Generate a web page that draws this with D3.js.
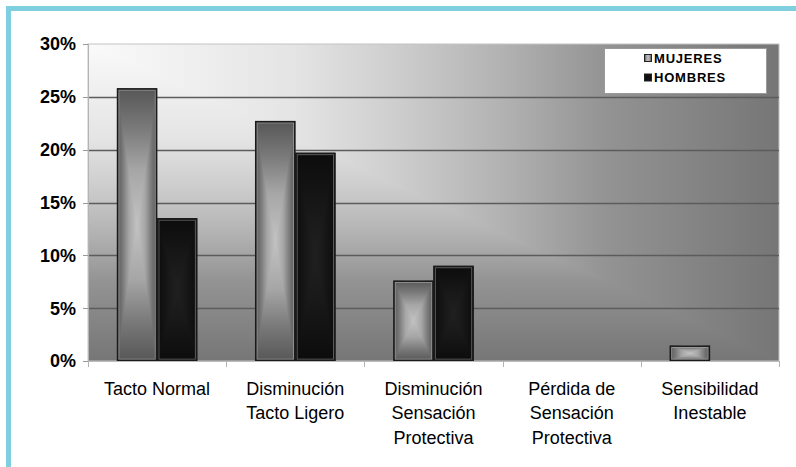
<!DOCTYPE html>
<html>
<head>
<meta charset="utf-8">
<script src="https://cdn.jsdelivr.net/npm/d3@7"></script>
<style>
  html, body { margin: 0; padding: 0; background: #ffffff; }
  svg { display: block; }
</style>
</head>
<body>
<svg id="chart" width="796" height="467"></svg>
<script>
// ---- data ----
const categories = [
  ["Tacto Normal"],
  ["Disminución", "Tacto Ligero"],
  ["Disminución", "Sensación", "Protectiva"],
  ["Pérdida de", "Sensación", "Protectiva"],
  ["Sensibilidad", "Inestable"]
];
const seriesNames = ["MUJERES", "HOMBRES"];
const mujeres = [0.258, 0.227, 0.076, 0, 0.0145];
const hombres = [0.135, 0.197, 0.090, 0, 0];
const yTicks = [0, 0.05, 0.10, 0.15, 0.20, 0.25, 0.30];

const svg = d3.select("#chart");
const W = 796, H = 467;
const plot = { left: 88, right: 779, top: 44, bottom: 361 };
const font = "'Liberation Sans', Arial, sans-serif";

const defs = svg.append("defs");

// background gradient (rectangular "from corner")
const bgStops = [[0, "#fafafa"], [0.3, "#e4e4e4"], [0.45, "#cdcdcd"], [0.6, "#b2b2b2"], [0.75, "#939393"], [1, "#767676"]];
function addGrad(id, x2, y2, stops) {
  const g = defs.append("linearGradient").attr("id", id)
    .attr("x1", 0).attr("y1", 0).attr("x2", x2).attr("y2", y2);
  stops.forEach(s => g.append("stop").attr("offset", s[0]).attr("stop-color", s[1]));
}
addGrad("bgH", 1, 0, bgStops);
addGrad("bgV", 0, 1, bgStops);
defs.append("clipPath").attr("id", "lowerLeft").attr("clipPathUnits", "objectBoundingBox")
  .append("polygon").attr("points", "0,0 0,1 1,1");

// bar gradients (rectangular "from center")
function centerStops(c0, c1, c2, c3) {
  return [[0, c3], [0.14, c2], [0.3, c1], [0.5, c0], [0.7, c1], [0.86, c2], [1, c3]];
}
const mStops = centerStops("#c2c2c2", "#a6a6a6", "#787878", "#575757");
const hStops = centerStops("#202020", "#191919", "#121212", "#0c0c0c");
addGrad("mH", 1, 0, mStops);
addGrad("mV", 0, 1, mStops);
addGrad("hH", 1, 0, hStops);
addGrad("hV", 0, 1, hStops);
const tb = defs.append("clipPath").attr("id", "topBottom").attr("clipPathUnits", "objectBoundingBox");
tb.append("polygon").attr("points", "0,0 1,0 0.5,0.5");
tb.append("polygon").attr("points", "0,1 1,1 0.5,0.5");

// ---- frame ----
svg.append("line").attr("x1", 6).attr("x2", W).attr("y1", 8.5).attr("y2", 8.5)
  .attr("stroke", "#80cfe0").attr("stroke-width", 5);
svg.append("line").attr("x1", 8.5).attr("x2", 8.5).attr("y1", 6).attr("y2", H)
  .attr("stroke", "#80cfe0").attr("stroke-width", 5);

// ---- scales ----
const x0 = d3.scaleBand().domain(d3.range(categories.length))
  .range([plot.left, plot.right]).paddingInner(0.42).paddingOuter(0.21);
const x1 = d3.scaleBand().domain(seriesNames).range([0, x0.bandwidth()]);
const y = d3.scaleLinear().domain([0, 0.30]).range([plot.bottom, plot.top]);

// ---- plot background ----
const pw = plot.right - plot.left, ph = plot.bottom - plot.top;
svg.append("rect").attr("x", plot.left).attr("y", plot.top).attr("width", pw).attr("height", ph)
  .attr("fill", "url(#bgH)");
svg.append("rect").attr("x", plot.left).attr("y", plot.top).attr("width", pw).attr("height", ph)
  .attr("fill", "url(#bgV)").attr("clip-path", "url(#lowerLeft)");
svg.append("rect").attr("x", plot.left).attr("y", plot.top).attr("width", pw).attr("height", ph)
  .attr("fill", "none").attr("stroke", "#c4c4c4").attr("stroke-width", 1);

// gridlines
svg.append("g").selectAll("line").data(yTicks.filter(t => t > 0 && t < 0.30)).join("line")
  .attr("x1", plot.left).attr("x2", plot.right)
  .attr("y1", d => Math.round(y(d)) + 0.5).attr("y2", d => Math.round(y(d)) + 0.5)
  .attr("stroke", "#5c5c5c").attr("stroke-width", 1.3);

// ---- bars ----
const data = categories.map((c, i) => ({ i, vals: [mujeres[i], hombres[i]] }));
const groups = svg.append("g").selectAll("g").data(data).join("g")
  .attr("transform", d => `translate(${x0(d.i)},0)`);
groups.each(function (d) {
  const g = d3.select(this);
  d.vals.forEach((v, k) => {
    if (v <= 0) return;
    const key = k === 0 ? "m" : "h";
    const bx = x1(seriesNames[k]), bw = x1.bandwidth();
    const by = y(v), bh = y(0) - y(v);
    g.append("rect").attr("x", bx).attr("y", by).attr("width", bw).attr("height", bh)
      .attr("fill", `url(#${key}H)`);
    g.append("rect").attr("x", bx).attr("y", by).attr("width", bw).attr("height", bh)
      .attr("fill", `url(#${key}V)`).attr("clip-path", "url(#topBottom)");
    g.append("rect").attr("x", bx + 1.8).attr("y", by + 1.8).attr("width", bw - 3.6).attr("height", Math.max(0, bh - 3.6))
      .attr("fill", "none").attr("stroke", "rgba(200,200,200,0.45)").attr("stroke-width", 1);
    g.append("rect").attr("x", bx + 0.5).attr("y", by + 0.5).attr("width", bw - 1).attr("height", bh - 1)
      .attr("fill", "none").attr("stroke", "#1a1a1a").attr("stroke-width", 1.5);
  });
});

// ---- axes ----
svg.append("line").attr("x1", plot.left + 0.5).attr("x2", plot.left + 0.5)
  .attr("y1", plot.top).attr("y2", plot.bottom + 0.5).attr("stroke", "#b4b4b4");
svg.append("line").attr("x1", plot.left).attr("x2", plot.right + 1)
  .attr("y1", plot.bottom + 0.5).attr("y2", plot.bottom + 0.5).attr("stroke", "#bcbcbc");

const yAxis = svg.append("g");
yAxis.selectAll("line").data(yTicks).join("line")
  .attr("x1", plot.left - 5).attr("x2", plot.left)
  .attr("y1", d => Math.round(y(d)) + 0.5).attr("y2", d => Math.round(y(d)) + 0.5)
  .attr("stroke", "#9a9a9a");
yAxis.selectAll("text").data(yTicks).join("text")
  .attr("x", 76).attr("y", d => y(d)).attr("dy", "0.36em")
  .attr("text-anchor", "end").attr("font-family", font).attr("font-weight", "bold")
  .attr("font-size", 18).attr("fill", "#000")
  .text(d3.format(".0%"));

// category ticks
const catEdges = d3.range(categories.length + 1).map(i => plot.left + i * (pw / categories.length));
svg.append("g").selectAll("line").data(catEdges).join("line")
  .attr("x1", d => Math.round(d) + 0.5).attr("x2", d => Math.round(d) + 0.5)
  .attr("y1", plot.bottom).attr("y2", plot.bottom + 6).attr("stroke", "#b4b4b4");

// category labels
const xl = svg.append("g").selectAll("text").data(categories).join("text")
  .attr("text-anchor", "middle").attr("font-family", font).attr("font-size", 18).attr("fill", "#000")
  .attr("transform", (d, i) => `translate(${x0(i) + x0.bandwidth() / 2},0)`);
xl.each(function (lines) {
  d3.select(this).selectAll("tspan").data(lines).join("tspan")
    .attr("x", 0).attr("y", (l, j) => 394.5 + j * 24.5).text(l => l);
});

// ---- legend ----
const lg = svg.append("g");
lg.append("rect").attr("x", 604.5).attr("y", 48.5).attr("width", 162).attr("height", 45)
  .attr("fill", "#ffffff").attr("stroke", "#9a9a9a").attr("stroke-width", 1);
seriesNames.forEach((s, k) => {
  const yy = 58 + k * 19.5;
  lg.append("rect").attr("x", 644.5).attr("y", yy - 3.5).attr("width", 7).attr("height", 7)
    .attr("fill", k === 0 ? "url(#mH)" : "#111").attr("stroke", "#222").attr("stroke-width", 1);
  lg.append("text").attr("x", 654).attr("y", yy).attr("dy", "0.36em")
    .attr("font-family", font).attr("font-weight", "bold").attr("font-size", 13)
    .attr("letter-spacing", 0.8).attr("fill", "#000").text(s);
});
</script>
</body>
</html>
